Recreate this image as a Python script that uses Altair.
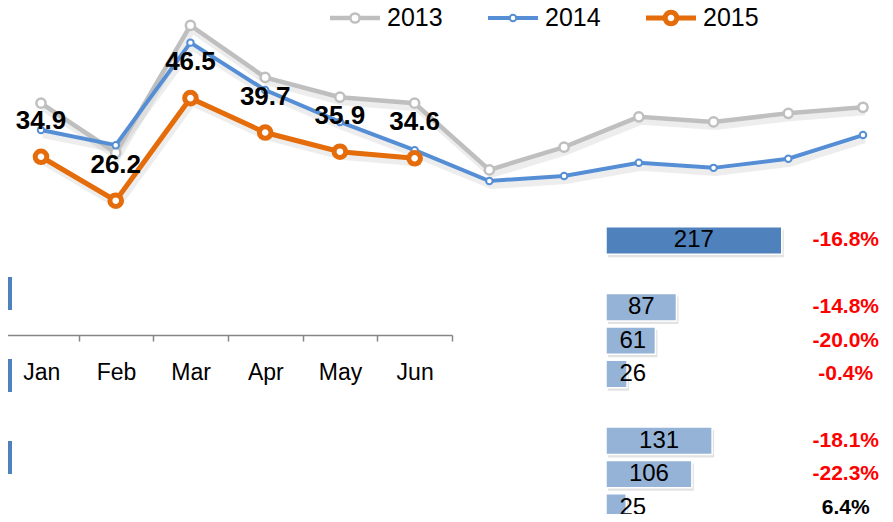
import altair as alt
import pandas as pd

# ---------------- data ----------------
months = ["Jan", "Feb", "Mar", "Apr", "May", "Jun",
          "Jul", "Aug", "Sep", "Oct", "Nov", "Dec"]
years = ["2013", "2014", "2015"]
v2013 = [45.5, 35.7, 60.9, 50.6, 46.7, 45.5, 32.3, 36.8, 42.8, 41.8, 43.5, 44.7]
v2014 = [40.2, 37.2, 57.5, 48.1, 41.8, 36.2, 30.1, 31.1, 33.7, 32.7, 34.5, 39.2]
v2015 = [34.9, 26.2, 46.5, 39.7, 35.9, 34.6]

bar_slots = ["Total", "gap1", "A1", "A2", "A3", "gap2", "B1", "B2", "B3"]
bar_names = ["Total", "A1", "A2", "A3", "B1", "B2", "B3"]
bar_values = [217, 87, 61, 26, 131, 106, 25]
bar_kind = ["total", "part", "part", "part", "part", "part", "part"]
bar_change = [-16.8, -14.8, -20.0, -0.4, -18.1, -22.3, 6.4]

left_groups = ["G1", "G2", "G3"]
left_values = [1, 1, 1]

# ---------------- tables ----------------
rows = []
for yr, vals in zip(years, [v2013, v2014, v2015]):
    for m, v in zip(months, vals):
        rows.append({"month": m, "year": yr, "value": v})
df_lines = pd.DataFrame(rows)
df_2015 = df_lines[df_lines.year == "2015"]

df_bars = pd.DataFrame({
    "slot": bar_names,
    "value": bar_values,
    "kind": bar_kind,
    "change": bar_change,
    "pct": [f"{c:.1f}%" for c in bar_change],
})
df_frag = pd.DataFrame({"month": months[:6]})
df_left = pd.DataFrame({"grp": left_groups, "value": left_values})
df_leg = pd.DataFrame({"year": years, "row": ["legend"] * 3})

FONT = "Liberation Sans"
STYLE = {
    "2013": dict(color="#BFBFBF", lw=4.5, size=85, pw=2.5),
    "2014": dict(color="#558ED5", lw=4, size=42, pw=2),
    "2015": dict(color="#E46C0A", lw=5, size=135, pw=5),
}

# ---------------- line chart ----------------
xs = alt.Scale(type="point", domain=months, range=[33, 855], padding=0)
ys = alt.Scale(domain=[20, 60], range=[224, 22], zero=False, nice=False)
X = alt.X("month:N", scale=xs, axis=None, sort=months)
Y = alt.Y("value:Q", scale=ys, axis=None)

# legend scales
lgx = alt.Scale(type="point", domain=years, range=[347, 663], padding=0)
lgy = alt.Scale(type="point", domain=["legend"], range=[10, 10], padding=0)
LX = alt.X("year:N", scale=lgx, axis=None)
LY = alt.Y("row:N", scale=lgy, axis=None)

line_layers = [
    alt.Chart(df_lines).mark_line(
        color="#9a9a9a", opacity=0.18, strokeWidth=6, xOffset=2, yOffset=5
    ).encode(x=X, y=Y, detail="year:N")
]
leg_layers = []
for yr in years:
    s = STYLE[yr]
    sel = alt.datum.year == yr
    line_layers.append(
        alt.Chart(df_lines).transform_filter(sel).mark_line(
            color=s["color"], strokeWidth=s["lw"]).encode(x=X, y=Y))
    line_layers.append(
        alt.Chart(df_lines).transform_filter(sel).mark_point(
            shape="circle", filled=False, fill="white", opacity=1,
            stroke=s["color"], strokeWidth=s["pw"], size=s["size"]).encode(x=X, y=Y))
    leg_layers.append(
        alt.Chart(df_leg).transform_filter(sel).mark_rule(
            xOffset=-25, x2Offset=25, color=s["color"], strokeWidth=s["lw"]
        ).encode(x=LX, x2="year:N", y=LY))
    leg_layers.append(
        alt.Chart(df_leg).transform_filter(sel).mark_point(
            shape="circle", filled=False, fill="white", opacity=1,
            stroke=s["color"], strokeWidth=s["pw"], size=s["size"]).encode(x=LX, y=LY))

labels = alt.Chart(df_2015).mark_text(
    dy=-36, fontSize=26, fontWeight="bold", font=FONT, color="black"
).encode(x=X, y=Y, text=alt.Text("value:Q", format=".1f"))
line_layers.append(labels)
line_grp = alt.layer(*line_layers)

leg_layers.append(alt.Chart(df_leg).mark_text(
    align="left", baseline="middle", dx=32, fontSize=25, font=FONT, color="black"
).encode(x=LX, y=LY, text="year:N"))
leg_grp = alt.layer(*leg_layers)

# ---------------- bar panel ----------------
bx = alt.Scale(domain=[0, 250], range=[598, 800.5], zero=True, nice=False)
by = alt.Scale(type="band", domain=bar_slots, range=[215.8, 516.2],
               paddingInner=0.18, paddingOuter=0.09)
BY = alt.Y("slot:N", scale=by, axis=None)

bar_shadow = alt.Chart(df_bars).mark_bar(
    color="#a0a0a0", opacity=0.3, xOffset=2, yOffset=3
).encode(x=alt.X("value:Q", scale=bx, axis=None), y=BY)

bars = alt.Chart(df_bars).mark_bar(stroke="white", strokeWidth=1.5).encode(
    x=alt.X("value:Q", scale=bx, axis=None),
    y=alt.Y("slot:N", scale=by, axis=alt.Axis(
        orient="left", offset=-597, labels=False, ticks=False, grid=False,
        domainColor="#808080", domainWidth=2, title=None)),
    color=alt.Color("kind:N", scale=alt.Scale(domain=["total", "part"],
                                              range=["#4F81BD", "#95B3D7"]), legend=None),
)

bar_text = alt.Chart(df_bars).transform_calculate(
    labx="max(datum.value / 2, 33)"
).mark_text(fontSize=24, font=FONT, color="black").encode(
    x=alt.X("labx:Q", scale=bx), y=BY, text="value:Q"
)

pct_text = alt.Chart(df_bars).mark_text(
    fontSize=21, fontWeight="bold", font=FONT, align="center"
).encode(
    x=alt.datum(296, scale=bx), y=BY, text="pct:N",
    color=alt.condition(alt.datum.change < 0, alt.value("#FF0000"), alt.value("black")),
)

bar_grp = alt.layer(bar_shadow, bars, bar_text, pct_text)

# ---------------- axis fragment ----------------
fx = alt.Scale(type="band", domain=months[:6], range=[-4, 444],
               paddingInner=0, paddingOuter=0)
frag = alt.Chart(df_frag).mark_point(opacity=0).encode(
    x=alt.X("month:N", scale=fx, sort=months[:6], axis=alt.Axis(
        orient="bottom", offset=-179, title=None, tickBand="extent", labelAngle=0,
        labelFontSize=23, labelFont=FONT, labelColor="black", labelPadding=20,
        domainColor="#868686", tickColor="#868686", domainWidth=1.5,
        tickWidth=1.5, tickSize=6, grid=False)),
)

# ---------------- left bar fragments ----------------
lx = alt.Scale(domain=[0, 1], range=[-100, 4], zero=True, nice=False)
ly = alt.Scale(type="band", domain=left_groups, range=[244.5, 490.5],
               paddingInner=0.598, paddingOuter=0.299)
left = alt.Chart(df_left).mark_bar(color="#4F81BD").encode(
    x=alt.X("value:Q", scale=lx, axis=None),
    y=alt.Y("grp:N", scale=ly, axis=None),
)

chart = alt.layer(line_grp, leg_grp, bar_grp, frag, left).resolve_scale(
    x="independent", y="independent", color="independent",
).properties(
    width=877, height=506, padding=0,
    autosize=alt.AutoSizeParams(type="none"),
).configure_view(stroke=None)

chart.save("out.html", embed_options={"renderer": "svg", "actions": False})
